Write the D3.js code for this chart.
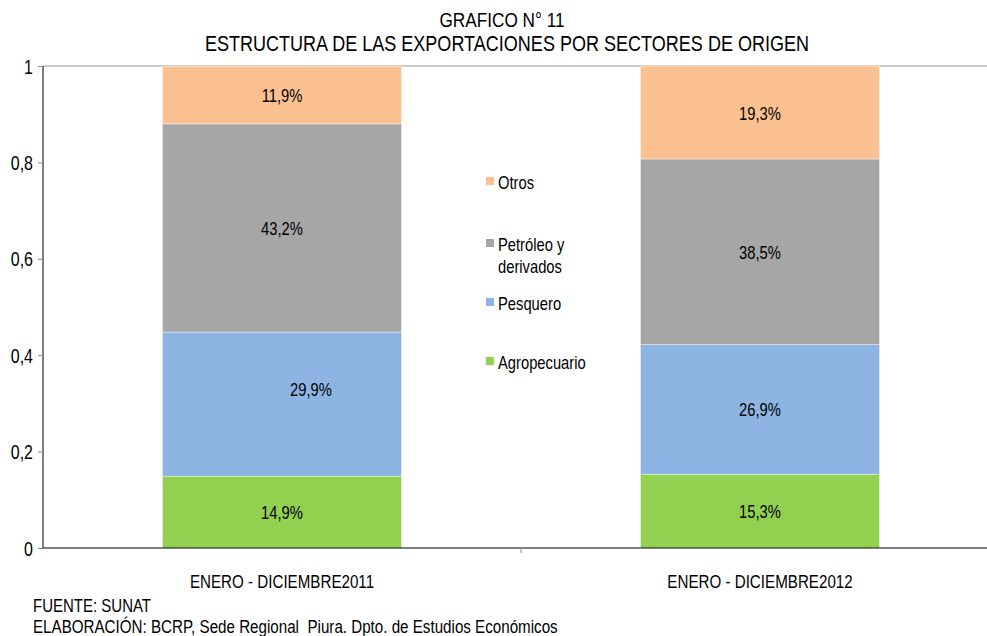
<!DOCTYPE html>
<head>
    <style>
        * { padding: 0; margin: 0; }
        body { background: #fff; }
        svg { display: block; }
    </style>
    <script src="https://cdn.jsdelivr.net/npm/d3@7"></script>
</head>

<body>
    <script>

        /////////////////////////////////////////////////////
        // DATA
        /////////////////////////////////////////////////////

        const periods = ["ENERO - DICIEMBRE2011", "ENERO - DICIEMBRE2012"]
        const sectors = ["Agropecuario", "Pesquero", "Petróleo y derivados", "Otros"]
        const agropecuario = [14.9, 15.3]
        const pesquero = [29.9, 26.9]
        const petroleo = [43.2, 38.5]
        const otros = [11.9, 19.3]
        const yTicks = [0, 0.2, 0.4, 0.6, 0.8, 1]

        const colors = ["#92D050", "#8DB4E2", "#A6A6A6", "#FAC090"]
        const series = [agropecuario, pesquero, petroleo, otros]

        /////////////////////////////////////////////////////
        // SETUP
        /////////////////////////////////////////////////////

        const width = 987
        const height = 636
        const margin = { left: 43, top: 66, bottom: 88 }
        const plotRight = 999
        //No narrow font available, so squeeze Liberation Sans horizontally
        const font = "'Liberation Sans', Arial, sans-serif"
        const narrow = 0.82

        const svg = d3.select("body").append("svg")
            .attr("width", width)
            .attr("height", height)
            .style("font-family", font)

        //Helper: a condensed text at (x, y)
        function ntext(sel, x, y, size, anchor) {
            return sel.append("text")
                .attr("transform", `translate(${x},${y}) scale(${narrow},1)`)
                .attr("text-anchor", anchor || "start")
                .style("font-size", size + "px")
                .style("white-space", "pre")
        }

        const x = d3.scaleBand()
            .domain(periods)
            .range([margin.left, plotRight])
            .paddingInner(0.5)
            .paddingOuter(0.25)

        const y = d3.scaleLinear()
            .domain([0, 1])
            .range([height - margin.bottom, margin.top])

        //Build the stacked table
        const table = periods.map((p, i) => {
            const row = { period: p }
            sectors.forEach((s, k) => row[s] = series[k][i] / 100)
            return row
        })
        const stacked = d3.stack().keys(sectors)(table)

        /////////////////////////////////////////////////////
        // TITLE
        /////////////////////////////////////////////////////

        ntext(svg, 502, 27, 21, "middle").text("GRAFICO N° 11")
        ntext(svg, 507, 51, 22, "middle").text("ESTRUCTURA DE LAS EXPORTACIONES POR SECTORES DE ORIGEN")

        /////////////////////////////////////////////////////
        // BARS
        /////////////////////////////////////////////////////

        //Top border line of the plot area
        svg.append("line")
            .attr("x1", margin.left).attr("x2", plotRight)
            .attr("y1", y(1)).attr("y2", y(1))
            .attr("stroke", "#999")

        const layers = svg.append("g").selectAll("g")
            .data(stacked)
            .join("g")
            .attr("fill", (d, i) => colors[i])

        layers.selectAll("rect")
            .data(d => d)
            .join("rect")
            .attr("x", d => x(d.data.period))
            .attr("width", x.bandwidth())
            .attr("y", d => y(d[1]))
            .attr("height", d => y(d[0]) - y(d[1]))
            .attr("stroke", "rgba(255,255,255,0.5)")
            .attr("stroke-width", 0.75)

        //Value labels (the 2011 Pesquero label sits a little off centre in the original)
        const labelShift = { "Pesquero|0": [29, -15] }
        layers.each(function (layer) {
            const g = d3.select(this)
            layer.forEach((d, i) => {
                const s = labelShift[layer.key + "|" + i] || [0, 0]
                ntext(g, x(d.data.period) + x.bandwidth() / 2 + s[0], (y(d[0]) + y(d[1])) / 2 + 7 + s[1], 18, "middle")
                    .attr("fill", "#000")
                    .text(d3.format(".1f")((d[1] - d[0]) * 100).replace(".", ",") + "%")
            })
        })

        /////////////////////////////////////////////////////
        // AXES
        /////////////////////////////////////////////////////

        const yAxis = svg.append("g")
            .attr("transform", `translate(${margin.left},0)`)
            .call(d3.axisLeft(y).tickValues(yTicks).tickSize(5).tickPadding(5)
                .tickFormat(d => d === 0 || d === 1 ? String(d) : d3.format(".1f")(d).replace(".", ",")))
        yAxis.select(".domain").attr("d", `M0,${y(1)}V${y(0)}`).attr("stroke", "#000")
        yAxis.selectAll(".tick line").attr("stroke", "#888")
        yAxis.selectAll(".tick text")
            .attr("x", null).attr("dy", null)
            .attr("transform", `translate(-10,7) scale(${narrow},1)`)
            .style("font-size", "19.5px").style("font-family", font).attr("fill", "#000")

        const xAxis = svg.append("g")
            .attr("transform", `translate(0,${y(0)})`)
        xAxis.append("line")
            .attr("x1", margin.left).attr("x2", plotRight)
            .attr("stroke", "#000")
        //Category separator tick, half way between the two bands
        const sep = x(periods[1]) - x.step() * x.paddingInner() / 2
        xAxis.append("line")
            .attr("x1", sep).attr("x2", sep)
            .attr("y1", 0).attr("y2", 5)
            .attr("stroke", "#888")
        periods.forEach(p => {
            ntext(xAxis, x(p) + x.bandwidth() / 2, 40, 18.5, "middle").text(p)
        })

        /////////////////////////////////////////////////////
        // LEGEND
        /////////////////////////////////////////////////////

        const legendRows = [
            { key: "Otros", lines: ["Otros"], y: 182 },
            { key: "Petróleo y derivados", lines: ["Petróleo y", "derivados"], y: 244 },
            { key: "Pesquero", lines: ["Pesquero"], y: 303 },
            { key: "Agropecuario", lines: ["Agropecuario"], y: 362 }
        ]
        const legend = svg.append("g").selectAll("g")
            .data(legendRows)
            .join("g")
            .attr("transform", d => `translate(486,${d.y})`)
        legend.append("rect")
            .attr("x", 0).attr("y", -5)
            .attr("width", 8).attr("height", 8)
            .attr("fill", d => colors[sectors.indexOf(d.key)])
        legend.each(function (d) {
            const g = d3.select(this)
            d.lines.forEach((l, i) => ntext(g, 12, 7 + i * 22, 18).text(l))
        })

        /////////////////////////////////////////////////////
        // FOOTER
        /////////////////////////////////////////////////////

        ntext(svg, 33, 612, 18.3).text("FUENTE: SUNAT")
        ntext(svg, 33, 633, 18.5).text("ELABORACIÓN: BCRP, Sede Regional  Piura. Dpto. de Estudios Económicos")

    </script>
</body>
